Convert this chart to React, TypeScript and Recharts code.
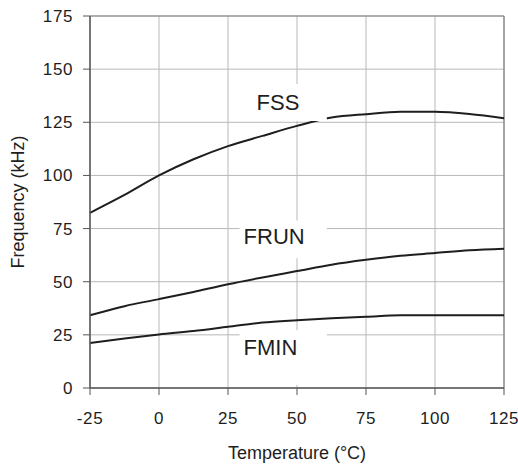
import React from "react";
import {
  LineChart,
  Line,
  XAxis,
  YAxis,
  CartesianGrid,
  ReferenceArea,
  ReferenceLine,
} from "recharts";

const temps = [-25, -12.5, 0, 12.5, 25, 37.5, 50, 62.5, 75, 87.5, 100, 112.5, 125];
const fss = [82.4, 90.8, 100, 107.6, 113.8, 118.6, 123.3, 127.2, 128.8, 129.9, 129.9, 128.9, 126.9];
const frun = [34.2, 38.5, 41.8, 45.2, 48.8, 52.0, 55.0, 58.0, 60.3, 62.2, 63.5, 64.8, 65.5];
const fmin = [21.2, 23.3, 25.2, 26.8, 28.8, 30.8, 31.9, 32.8, 33.5, 34.2, 34.2, 34.2, 34.2];

const xTicks = [-25, 0, 25, 50, 75, 100, 125];
const yTicks = [0, 25, 50, 75, 100, 125, 150, 175];

const data = temps.map((t, i) => ({ t, fss: fss[i], frun: frun[i], fmin: fmin[i] }));

const font = "'Liberation Sans', Arial, sans-serif";
const ink = "#1e1e1e";
const axisColor = "#555";

// white box label that hides the grid behind the series name
const boxLabel = (text: string, dx: number, dy: number) => (p: any) => {
  const vb = p.viewBox || {};
  return (
    <text
      x={vb.x + dx}
      y={vb.y + dy}
      fontFamily={font}
      fontSize={22}
      fill={ink}
    >
      {text}
    </text>
  );
};

const tickStyle = { fill: ink, fontSize: 17, fontFamily: font, letterSpacing: 0.6 };

const App = () => {
  return (
    <div style={{ position: "absolute", left: 0, top: 0, width: 518, height: 470 }}>
      <LineChart
        width={518}
        height={470}
        data={data}
        margin={{ top: 16, right: 14, left: 0, bottom: 0 }}
      >
        <CartesianGrid stroke="#b8b8b8" strokeWidth={1} />
        <XAxis
          dataKey="t"
          type="number"
          domain={[-25, 125]}
          ticks={xTicks}
          interval={0}
          height={82}
          tickSize={7}
          tickMargin={17}
          axisLine={{ stroke: axisColor, strokeWidth: 1.5 }}
          tickLine={{ stroke: axisColor }}
          tick={tickStyle}
          label={{
            content: (p: any) => {
              const vb = p.viewBox || {};
              return (
                <text
                  x={vb.x + vb.width / 2}
                  y={vb.y + 71}
                  textAnchor="middle"
                  fontFamily={font}
                  fontSize={18}
                  fill={ink}
                >
                  Temperature (°C)
                </text>
              );
            },
          }}
        />
        <YAxis
          type="number"
          domain={[0, 175]}
          ticks={yTicks}
          interval={0}
          width={90}
          tickSize={7}
          tickMargin={10}
          axisLine={{ stroke: axisColor, strokeWidth: 1.5 }}
          tickLine={{ stroke: axisColor }}
          tick={tickStyle}
          label={{
            content: (p: any) => {
              const vb = p.viewBox || {};
              const cx = 18;
              const cy = vb.y + vb.height / 2;
              return (
                <text
                  x={cx}
                  y={cy}
                  dy="0.35em"
                  textAnchor="middle"
                  transform={`rotate(-90 ${cx} ${cy})`}
                  fontFamily={font}
                  fontSize={18}
                  fill={ink}
                >
                  Frequency (kHz)
                </text>
              );
            },
          }}
        />
        <ReferenceLine y={175} stroke="#808080" strokeWidth={1.2} ifOverflow="visible" />
        <ReferenceLine x={125} stroke="#808080" strokeWidth={1.2} ifOverflow="visible" />
        <Line type="monotone" dataKey="fss" stroke={ink} strokeWidth={2} dot={false} isAnimationActive={false} />
        <Line type="monotone" dataKey="frun" stroke={ink} strokeWidth={2} dot={false} isAnimationActive={false} />
        <Line type="monotone" dataKey="fmin" stroke={ink} strokeWidth={2} dot={false} isAnimationActive={false} />
        <ReferenceArea
          x1={31}
          x2={60.8}
          y1={125.6}
          y2={143}
          fill="#fff"
          fillOpacity={1}
          stroke="none"
          ifOverflow="visible"
          zIndex={1000}
          label={boxLabel("FSS", 12, 26)}
        />
        <ReferenceArea
          x1={29.2}
          x2={60.8}
          y1={61}
          y2={78.8}
          fill="#fff"
          fillOpacity={1}
          stroke="none"
          ifOverflow="visible"
          zIndex={1000}
          label={boxLabel("FRUN", 4, 24)}
        />
        <ReferenceArea
          x1={29.2}
          x2={60.8}
          y1={1.5}
          y2={27.2}
          fill="#fff"
          fillOpacity={1}
          stroke="none"
          ifOverflow="visible"
          zIndex={1000}
          label={boxLabel("FMIN", 4, 25)}
        />
      </LineChart>
    </div>
  );
};

export default App;
